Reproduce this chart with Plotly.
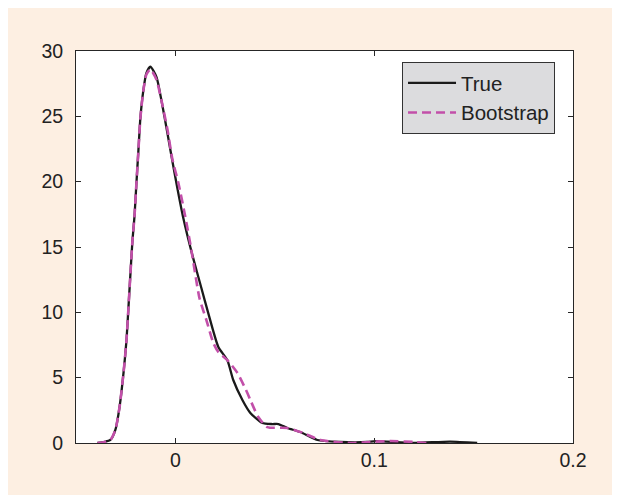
import plotly.graph_objects as go

# Kernel density estimates
true_x = [-0.0392, -0.0357, -0.0327, -0.0302, -0.0281, -0.0261, -0.0246, -0.0236, -0.0226,
          -0.0216, -0.0206, -0.0196, -0.0186, -0.0176, -0.0161, -0.0146, -0.0126, -0.0095,
          -0.0070, -0.0040, -0.0025, 0.0005, 0.0040, 0.0085, 0.0130, 0.0166, 0.0216,
          0.0261, 0.0291, 0.0337, 0.0377, 0.0437, 0.0487, 0.0518, 0.0563, 0.0628, 0.0714,
          0.0829, 0.0965, 0.1005, 0.1196, 0.1382, 0.1518]
true_y = [0.0, 0.08, 0.23, 1.0, 2.75, 5.36, 7.88, 10.4, 13.0,
          15.5, 17.3, 19.9, 22.4, 24.9, 27.0, 28.3, 28.8, 28.0,
          26.2, 23.7, 22.4, 19.9, 17.2, 14.4, 11.9, 9.9, 7.35,
          6.35, 4.82, 3.29, 2.30, 1.53, 1.45, 1.45, 1.15, 0.84, 0.23,
          0.08, 0.08, 0.15, 0.0, 0.11, 0.0]

boot_x = [-0.0392, -0.0357, -0.0327, -0.0302, -0.0281, -0.0261, -0.0246, -0.0236, -0.0226,
          -0.0216, -0.0206, -0.0196, -0.0186, -0.0176, -0.0161, -0.0146, -0.0126, -0.0095,
          -0.0070, -0.0040, -0.0015, 0.0015, 0.0050, 0.0080, 0.0121, 0.0156, 0.0191,
          0.0216, 0.0261, 0.0312, 0.0362, 0.0377, 0.0417, 0.0462, 0.0563, 0.0643, 0.0729,
          0.0894, 0.098, 0.108, 0.120, 0.1266]
boot_y = [0.0, 0.08, 0.23, 1.0, 2.75, 5.36, 7.88, 10.4, 13.0,
          15.5, 17.3, 19.9, 22.4, 24.9, 27.0, 28.2, 28.6, 27.8,
          26.2, 24.0, 21.7, 19.9, 17.3, 14.8, 11.1, 9.4, 7.65,
          6.96, 6.35, 5.36, 3.83, 3.29, 1.99, 1.22, 1.15, 0.77, 0.23,
          0.0, 0.08, 0.15, 0.08, 0.0]

x_ticks = [0, 0.1, 0.2]
x_tick_text = ["0", "0.1", "0.2"]
y_ticks = [0, 5, 10, 15, 20, 25, 30]

fig = go.Figure()
fig.add_trace(go.Scatter(x=true_x, y=true_y, mode="lines", name="True",
                         line=dict(color="#1a1a1a", width=2.3, shape="spline", smoothing=0.6)))
fig.add_trace(go.Scatter(x=boot_x, y=boot_y, mode="lines", name="Bootstrap",
                         line=dict(color="#C24FA9", width=2.6, dash="9px,5px",
                                   shape="spline", smoothing=0.6)))

# plot area in page pixels (page has an 8px body margin)
off = 8
L, R, T, B = 75.5 - off, 573 - off, 51 - off, 443 - off
W, H = R - L, B - T
peach = "#FDEFE2"
font_fam = "Liberation Sans, Arial, sans-serif"

axis_common = dict(showgrid=False, zeroline=False, showline=True, linecolor="#262626",
                   linewidth=1, mirror="allticks", ticks="inside", ticklen=5,
                   tickcolor="#262626", tickfont=dict(size=19.5, color="#222222", family=font_fam))
fig.update_xaxes(range=[-0.05, 0.2], tickvals=x_ticks, ticktext=x_tick_text,
                 ticklabelstandoff=0, **axis_common)
fig.update_yaxes(range=[0, 30], tickvals=y_ticks, ticklabelstandoff=8, **axis_common)

fig.update_layout(
    width=620, height=495,
    margin=dict(l=L, r=620 - R, t=T, b=495 - B),
    paper_bgcolor=peach, plot_bgcolor="white",
    font=dict(family=font_fam, size=19.5, color="#222222"),
    showlegend=True,
    legend=dict(x=(555 - off - L) / W, y=(B - (62 - off)) / H, xanchor="right", yanchor="top",
                bgcolor="#DCDCDE", bordercolor="#333333", borderwidth=1, itemwidth=48,
                font=dict(size=20.5, color="#222222"), tracegroupgap=0),
)

fig.write_html("out.html")
